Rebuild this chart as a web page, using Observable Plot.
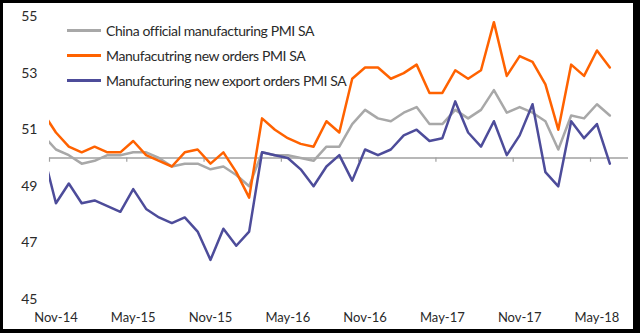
<!DOCTYPE html>
<html><head><meta charset="utf-8">
<script src="https://cdn.jsdelivr.net/npm/d3@7"></script>
<script src="https://cdn.jsdelivr.net/npm/@observablehq/plot@0.6"></script>
<style>
html,body{margin:0;padding:0;background:#000;}
#wrap{position:relative;width:640px;height:333px;background:#fff;overflow:hidden;font-family:Lato,"Open Sans",sans-serif;}
#frame{position:absolute;left:0;top:0;width:640px;height:333px;box-sizing:border-box;border-style:solid;border-color:#000;border-width:3px 7px 4px 3px;pointer-events:none;}
#legend{position:absolute;left:67px;top:18px;}
.row{display:flex;align-items:center;height:25px;font-size:14px;letter-spacing:-0.4px;color:#2a2a2a;white-space:nowrap;}
.sw{display:inline-block;width:34px;height:3px;margin-right:5px;}
svg{display:block;}
</style>
</head><body>
<div id="wrap"><div id="chart"></div><div id="legend"></div><div id="frame"></div></div>
<script>
const months = ["Oct-14","Nov-14","Dec-14",
 "Jan-15","Feb-15","Mar-15","Apr-15","May-15","Jun-15","Jul-15","Aug-15","Sep-15","Oct-15","Nov-15","Dec-15",
 "Jan-16","Feb-16","Mar-16","Apr-16","May-16","Jun-16","Jul-16","Aug-16","Sep-16","Oct-16","Nov-16","Dec-16",
 "Jan-17","Feb-17","Mar-17","Apr-17","May-17","Jun-17","Jul-17","Aug-17","Sep-17","Oct-17","Nov-17","Dec-17",
 "Jan-18","Feb-18","Mar-18","Apr-18","May-18","Jun-18"];
const officialPMI = [50.8,50.3,50.1,
 49.8,49.9,50.1,50.1,50.2,50.2,50.0,49.7,49.8,49.8,49.6,49.7,
 49.4,49.0,50.2,50.1,50.1,50.0,49.9,50.4,50.4,51.2,51.7,51.4,
 51.3,51.6,51.8,51.2,51.2,51.7,51.4,51.7,52.4,51.6,51.8,51.6,
 51.3,50.3,51.5,51.4,51.9,51.5];
const newOrders = [51.6,50.9,50.4,
 50.2,50.4,50.2,50.2,50.6,50.1,49.9,49.7,50.2,50.3,49.8,50.2,
 49.5,48.6,51.4,51.0,50.7,50.5,50.4,51.3,50.9,52.8,53.2,53.2,
 52.8,53.0,53.3,52.3,52.3,53.1,52.8,53.1,54.8,52.9,53.6,53.4,
 52.6,51.0,53.3,52.9,53.8,53.2];
const newExportOrders = [50.2,48.4,49.1,
 48.4,48.5,48.3,48.1,48.9,48.2,47.9,47.7,47.9,47.4,46.4,47.5,
 46.9,47.4,50.2,50.1,50.0,49.6,49.0,49.7,50.1,49.2,50.3,50.1,
 50.3,50.8,51.0,50.6,50.7,52.0,50.9,50.4,51.3,50.1,50.8,51.9,
 49.5,49.0,51.3,50.7,51.2,49.8];
const seriesNames = ["China official manufacturing PMI SA","Manufacutring new orders PMI SA","Manufacturing new export orders PMI SA"];
const seriesColors = ["#a8a8a8","#ff6200","#4d4c9a"];
const xTickLabels = ["Nov-14","May-15","Nov-15","May-16","Nov-16","May-17","Nov-17","May-18"];
const yTicks = [45,47,49,51,53,55];

const pos = m => months.indexOf(m) - 1;   // Nov-14 -> 0
const rows = [];
[officialPMI,newOrders,newExportOrders].forEach((arr,s) =>
  arr.forEach((v,i) => rows.push({s: seriesNames[s], m: months[i], x: i - 1, v})));
const labelPos = xTickLabels.map(pos);
const boundaryPos = labelPos.map(p => p - 0.5);

const chart = Plot.plot({
  width: 640, height: 333,
  marginLeft: 49, marginRight: 12, marginTop: 16, marginBottom: 34,
  style: {fontFamily: "Lato, 'Open Sans', sans-serif", color: "#2a2a2a", background: "transparent"},
  x: {domain: [-0.5, 44.45], axis: null},
  y: {domain: [45, 55], axis: null},
  color: {domain: seriesNames, range: seriesColors},
  marks: [
    Plot.ruleY([50], {stroke: "#a0a0a0", strokeWidth: 1.4}),
    Plot.ruleX(boundaryPos, {x: d => d, y1: 50, y2: 49.85, stroke: "#a0a0a0", strokeWidth: 1.2}),
    Plot.axisY(yTicks, {tickSize: 0, tickPadding: 12, fontSize: 14, label: null}),
    Plot.axisX(labelPos, {tickSize: 0, tickPadding: 13, fontSize: 13, label: null,
      tickFormat: p => months[p + 1]}),
    Plot.lineY(rows, {x: "x", y: "v", z: "s", stroke: "s", strokeWidth: 2.5, clip: true, curve: "linear"})
  ]
});
document.getElementById("chart").appendChild(chart);

const legend = document.getElementById("legend");
seriesNames.forEach((n, i) => {
  const r = document.createElement("div");
  r.className = "row";
  r.innerHTML = `<span class="sw" style="background:${seriesColors[i]}"></span><span>${n}</span>`;
  legend.appendChild(r);
});
</script>
</body></html>
